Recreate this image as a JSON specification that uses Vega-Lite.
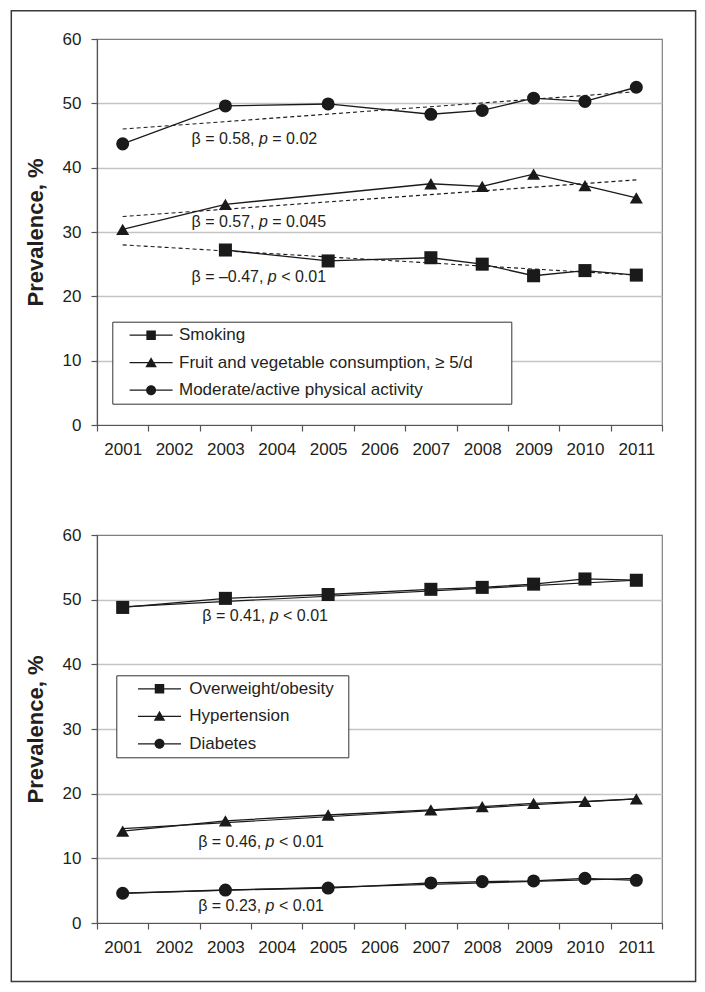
{
  "$schema": "https://vega.github.io/schema/vega-lite/v6.json",
  "padding": {"left": 9, "top": 9, "right": 9, "bottom": 9},
  "background": "white",
  "config": {
    "font": "Liberation Sans",
    "view": {"fill": "#f2f2f2", "stroke": "#7f7f7f", "strokeWidth": 1.2},
    "axis": {
      "labelFont": "Liberation Sans", "labelFontSize": 17, "labelColor": "#231f20",
      "domainColor": "#555555", "tickColor": "#555555", "domainWidth": 1.2, "tickWidth": 1.2,
      "titleFont": "Liberation Sans", "titleColor": "#231f20"
    },
    "axisY": {
      "grid": true,
      "gridColor": {"condition": {"test": "datum.value == 0 || datum.value == 60", "value": "transparent"}, "value": "#c4c4c4"},
      "gridWidth": 1.6, "tickSize": 6, "labelPadding": 10, "titlePadding": 15, "titleFontSize": 22, "titleFontWeight": "bold"
    },
    "legend": {
      "labelFont": "Liberation Sans", "labelFontSize": 17, "labelColor": "#231f20", "labelLimit": 500,
      "strokeColor": "#333333", "fillColor": "white", "padding": 5,
      "symbolSize": 100, "symbolFillColor": "#1a1a1a",
      "rowPadding": 9.5, "titlePadding": 0
    }
  },
  "datasets": {
    "top": [
      {"series": "Smoking", "year": 2003, "value": 27.2},
      {"series": "Smoking", "year": 2005, "value": 25.5},
      {"series": "Smoking", "year": 2007, "value": 26.0},
      {"series": "Smoking", "year": 2008, "value": 25.0},
      {"series": "Smoking", "year": 2009, "value": 23.2},
      {"series": "Smoking", "year": 2010, "value": 24.0},
      {"series": "Smoking", "year": 2011, "value": 23.3},
      {"series": "Fruit and vegetable consumption, ≥ 5/d", "year": 2001, "value": 30.4},
      {"series": "Fruit and vegetable consumption, ≥ 5/d", "year": 2003, "value": 34.3},
      {"series": "Fruit and vegetable consumption, ≥ 5/d", "year": 2007, "value": 37.5},
      {"series": "Fruit and vegetable consumption, ≥ 5/d", "year": 2008, "value": 37.1},
      {"series": "Fruit and vegetable consumption, ≥ 5/d", "year": 2009, "value": 39.0},
      {"series": "Fruit and vegetable consumption, ≥ 5/d", "year": 2010, "value": 37.2},
      {"series": "Fruit and vegetable consumption, ≥ 5/d", "year": 2011, "value": 35.3},
      {"series": "Moderate/active physical activity", "year": 2001, "value": 43.7},
      {"series": "Moderate/active physical activity", "year": 2003, "value": 49.6},
      {"series": "Moderate/active physical activity", "year": 2005, "value": 49.9},
      {"series": "Moderate/active physical activity", "year": 2007, "value": 48.3},
      {"series": "Moderate/active physical activity", "year": 2008, "value": 48.9},
      {"series": "Moderate/active physical activity", "year": 2009, "value": 50.8},
      {"series": "Moderate/active physical activity", "year": 2010, "value": 50.3},
      {"series": "Moderate/active physical activity", "year": 2011, "value": 52.5}
    ],
    "topTrend": [
      {"series": "Smoking", "year": 2001, "value": 28.0},
      {"series": "Smoking", "year": 2011, "value": 23.3},
      {"series": "Fruit and vegetable consumption, ≥ 5/d", "year": 2001, "value": 32.4},
      {"series": "Fruit and vegetable consumption, ≥ 5/d", "year": 2011, "value": 38.1},
      {"series": "Moderate/active physical activity", "year": 2001, "value": 46.0},
      {"series": "Moderate/active physical activity", "year": 2011, "value": 51.8}
    ],
    "topNotes": [
      {"x": 2002.34, "y": 44.5, "text": "β = 0.58,", "it": false},
      {"x": 2003.652, "y": 44.5, "text": "p", "it": true},
      {"x": 2003.912, "y": 44.5, "text": "= 0.02", "it": false},
      {"x": 2002.34, "y": 31.6, "text": "β = 0.57,", "it": false},
      {"x": 2003.652, "y": 31.6, "text": "p", "it": true},
      {"x": 2003.912, "y": 31.6, "text": "= 0.045", "it": false},
      {"x": 2002.34, "y": 23.0, "text": "β = –0.47,", "it": false},
      {"x": 2003.826, "y": 23.0, "text": "p", "it": true},
      {"x": 2004.086, "y": 23.0, "text": "< 0.01", "it": false}
    ],
    "bottom": [
      {"series": "Overweight/obesity", "year": 2001, "value": 48.8},
      {"series": "Overweight/obesity", "year": 2003, "value": 50.2},
      {"series": "Overweight/obesity", "year": 2005, "value": 50.8},
      {"series": "Overweight/obesity", "year": 2007, "value": 51.6},
      {"series": "Overweight/obesity", "year": 2008, "value": 51.9},
      {"series": "Overweight/obesity", "year": 2009, "value": 52.4},
      {"series": "Overweight/obesity", "year": 2010, "value": 53.2},
      {"series": "Overweight/obesity", "year": 2011, "value": 53.0},
      {"series": "Hypertension", "year": 2001, "value": 14.2},
      {"series": "Hypertension", "year": 2003, "value": 15.8},
      {"series": "Hypertension", "year": 2005, "value": 16.7},
      {"series": "Hypertension", "year": 2007, "value": 17.5},
      {"series": "Hypertension", "year": 2008, "value": 18.0},
      {"series": "Hypertension", "year": 2009, "value": 18.5},
      {"series": "Hypertension", "year": 2010, "value": 18.8},
      {"series": "Hypertension", "year": 2011, "value": 19.2},
      {"series": "Diabetes", "year": 2001, "value": 4.6},
      {"series": "Diabetes", "year": 2003, "value": 5.1},
      {"series": "Diabetes", "year": 2005, "value": 5.4},
      {"series": "Diabetes", "year": 2007, "value": 6.2},
      {"series": "Diabetes", "year": 2008, "value": 6.4},
      {"series": "Diabetes", "year": 2009, "value": 6.5},
      {"series": "Diabetes", "year": 2010, "value": 6.9},
      {"series": "Diabetes", "year": 2011, "value": 6.6}
    ],
    "bottomTrend": [
      {"series": "Overweight/obesity", "year": 2001, "value": 48.9},
      {"series": "Overweight/obesity", "year": 2011, "value": 53.0},
      {"series": "Hypertension", "year": 2001, "value": 14.6},
      {"series": "Hypertension", "year": 2011, "value": 19.2},
      {"series": "Diabetes", "year": 2001, "value": 4.6},
      {"series": "Diabetes", "year": 2011, "value": 6.9}
    ],
    "bottomNotes": [
      {"x": 2002.55, "y": 47.4, "text": "β = 0.41,", "it": false},
      {"x": 2003.862, "y": 47.4, "text": "p", "it": true},
      {"x": 2004.122, "y": 47.4, "text": "< 0.01", "it": false},
      {"x": 2002.47, "y": 12.6, "text": "β = 0.46,", "it": false},
      {"x": 2003.782, "y": 12.6, "text": "p", "it": true},
      {"x": 2004.042, "y": 12.6, "text": "< 0.01", "it": false},
      {"x": 2002.47, "y": 2.6, "text": "β = 0.23,", "it": false},
      {"x": 2003.782, "y": 2.6, "text": "p", "it": true},
      {"x": 2004.042, "y": 2.6, "text": "< 0.01", "it": false}
    ]
  },
  "bounds": "flush",
  "spacing": 110,
  "vconcat": [
    {
      "width": 565,
      "height": 386,
      "resolve": {"scale": {"x": "independent", "shape": "independent"}},
      "layer": [
        {
          "layer": [
            {
              "data": {"name": "topTrend"},
              "mark": {"type": "line", "color": "#1a1a1a", "strokeWidth": 1.1, "strokeDash": [4, 3]},
              "encoding": {
                "x": {"field": "year", "type": "ordinal", "bandPosition": 0.5, "scale": {"type": "band", "domain": [2001, 2002, 2003, 2004, 2005, 2006, 2007, 2008, 2009, 2010, 2011], "paddingInner": 0, "paddingOuter": 0}, "axis": {"title": null, "tickBand": "extent", "labelAngle": 0, "grid": false, "labelPadding": 10, "tickSize": 6}},
                "y": {"field": "value", "type": "quantitative", "scale": {"domain": [0, 60], "nice": false}, "title": "Prevalence, %", "axis": {"values": [0, 10, 20, 30, 40, 50, 60]}},
                "detail": {"field": "series"}
              }
            },
            {
              "data": {"name": "top"},
              "mark": {"type": "line", "color": "#1a1a1a", "strokeWidth": 1.3},
              "encoding": {
                "x": {"field": "year", "type": "ordinal", "bandPosition": 0.5},
                "y": {"field": "value", "type": "quantitative", "title": "Prevalence, %", "axis": {"values": [0, 10, 20, 30, 40, 50, 60]}},
                "detail": {"field": "series"}
              }
            },
            {
              "data": {"name": "top"},
              "mark": {"type": "point", "filled": true, "opacity": 1, "color": "#1a1a1a", "size": 170},
              "encoding": {
                "x": {"field": "year", "type": "ordinal", "bandPosition": 0.5},
                "y": {"field": "value", "type": "quantitative", "title": "Prevalence, %", "axis": {"values": [0, 10, 20, 30, 40, 50, 60]}},
                "shape": {"field": "series", "type": "nominal", "scale": {"domain": ["Smoking", "Fruit and vegetable consumption, ≥ 5/d", "Moderate/active physical activity"], "range": ["square", "triangle-up", "circle"]}, "legend": null}
              }
            }
          ]
        },
        {
          "layer": [
            {
              "data": {"values": [{}]},
              "mark": {"type": "rect", "filled": false, "color": "#3a3a3a", "strokeWidth": 1.5},
              "encoding": {
                "x": {"datum": 1998.8315, "type": "quantitative", "scale": {"domain": [2000.5, 2011.5], "nice": false, "zero": false}, "axis": null},
                "x2": {"datum": 2012.154},
                "y": {"datum": 64.399, "type": "quantitative", "scale": {"domain": [0, 60], "nice": false}, "title": "Prevalence, %", "axis": {"values": [0, 10, 20, 30, 40, 50, 60]}},
                "y2": {"datum": -86.49}
              }
            },
            {
              "data": {"name": "topNotes"},
              "transform": [{"filter": "!datum.it"}],
              "mark": {"type": "text", "align": "left", "baseline": "middle", "fontSize": 16, "color": "#231f20"},
              "encoding": {
                "x": {"field": "x", "type": "quantitative"},
                "y": {"field": "y", "type": "quantitative", "title": "Prevalence, %", "axis": {"values": [0, 10, 20, 30, 40, 50, 60]}},
                "text": {"field": "text"}
              }
            },
            {
              "data": {"name": "topNotes"},
              "transform": [{"filter": "datum.it"}],
              "mark": {"type": "text", "align": "left", "baseline": "middle", "fontSize": 16, "fontStyle": "italic", "color": "#231f20"},
              "encoding": {
                "x": {"field": "x", "type": "quantitative"},
                "y": {"field": "y", "type": "quantitative", "title": "Prevalence, %", "axis": {"values": [0, 10, 20, 30, 40, 50, 60]}},
                "text": {"field": "text"}
              }
            },
            {
              "data": {"name": "top"},
              "transform": [{"filter": "false"}],
              "mark": {"type": "point", "filled": true, "opacity": 1, "color": "#1a1a1a"},
              "encoding": {
                "shape": {
                  "field": "series", "type": "nominal",
                  "scale": {"domain": ["Smoking", "Fruit and vegetable consumption, ≥ 5/d", "Moderate/active physical activity"],
                            "range": ["M-4.3,-0.13H4.3V0.13H-4.3ZM-0.95,-0.95H0.95V0.95H-0.95Z", "M-4.3,-0.13H4.3V0.13H-4.3ZM0,-1.1L1.15,0.9H-1.15Z", "M-4.3,-0.13H4.3V0.13H-4.3ZM1,0A1,1,0,1,1,-1,0A1,1,0,1,1,1,0Z"]},
                  "legend": {
                    "title": null, "orient": "none", "legendX": 15.3, "legendY": 282.7, "symbolOffset": 25.3, "labelOffset": 19.4,
                    "labelExpr": "datum.label + '\u00a0\u00a0\u00a0\u00a0\u00a0\u00a0\u00a0\u200b'",
                    "encode": {"symbols": {"fill": {"value": "#1a1a1a"}, "opacity": {"value": 1}}}
                  }
                }
              }
            }
          ]
        }
      ]
    },
    {
      "width": 565,
      "height": 388,
      "resolve": {"scale": {"x": "independent", "shape": "independent"}},
      "layer": [
        {
          "layer": [
            {
              "data": {"name": "bottomTrend"},
              "mark": {"type": "line", "color": "#1a1a1a", "strokeWidth": 1.2},
              "encoding": {
                "x": {"field": "year", "type": "ordinal", "bandPosition": 0.5, "scale": {"type": "band", "domain": [2001, 2002, 2003, 2004, 2005, 2006, 2007, 2008, 2009, 2010, 2011], "paddingInner": 0, "paddingOuter": 0}, "axis": {"title": null, "tickBand": "extent", "labelAngle": 0, "grid": false, "labelPadding": 10, "tickSize": 6}},
                "y": {"field": "value", "type": "quantitative", "scale": {"domain": [0, 60], "nice": false}, "title": "Prevalence, %", "axis": {"values": [0, 10, 20, 30, 40, 50, 60]}},
                "detail": {"field": "series"}
              }
            },
            {
              "data": {"name": "bottom"},
              "mark": {"type": "line", "color": "#1a1a1a", "strokeWidth": 1.3},
              "encoding": {
                "x": {"field": "year", "type": "ordinal", "bandPosition": 0.5},
                "y": {"field": "value", "type": "quantitative", "title": "Prevalence, %", "axis": {"values": [0, 10, 20, 30, 40, 50, 60]}},
                "detail": {"field": "series"}
              }
            },
            {
              "data": {"name": "bottom"},
              "mark": {"type": "point", "filled": true, "opacity": 1, "color": "#1a1a1a", "size": 170},
              "encoding": {
                "x": {"field": "year", "type": "ordinal", "bandPosition": 0.5},
                "y": {"field": "value", "type": "quantitative", "title": "Prevalence, %", "axis": {"values": [0, 10, 20, 30, 40, 50, 60]}},
                "shape": {"field": "series", "type": "nominal", "scale": {"domain": ["Overweight/obesity", "Hypertension", "Diabetes"], "range": ["square", "triangle-up", "circle"]}, "legend": null}
              }
            }
          ]
        },
        {
          "layer": [
            {
              "data": {"name": "bottomNotes"},
              "transform": [{"filter": "!datum.it"}],
              "mark": {"type": "text", "align": "left", "baseline": "middle", "fontSize": 16, "color": "#231f20"},
              "encoding": {
                "x": {"field": "x", "type": "quantitative", "scale": {"domain": [2000.5, 2011.5], "nice": false, "zero": false}, "axis": null},
                "y": {"field": "y", "type": "quantitative", "scale": {"domain": [0, 60], "nice": false}, "title": "Prevalence, %", "axis": {"values": [0, 10, 20, 30, 40, 50, 60]}},
                "text": {"field": "text"}
              }
            },
            {
              "data": {"name": "bottomNotes"},
              "transform": [{"filter": "datum.it"}],
              "mark": {"type": "text", "align": "left", "baseline": "middle", "fontSize": 16, "fontStyle": "italic", "color": "#231f20"},
              "encoding": {
                "x": {"field": "x", "type": "quantitative"},
                "y": {"field": "y", "type": "quantitative", "title": "Prevalence, %", "axis": {"values": [0, 10, 20, 30, 40, 50, 60]}},
                "text": {"field": "text"}
              }
            },
            {
              "data": {"name": "bottom"},
              "transform": [{"filter": "false"}],
              "mark": {"type": "point", "filled": true, "opacity": 1, "color": "#1a1a1a"},
              "encoding": {
                "shape": {
                  "field": "series", "type": "nominal",
                  "scale": {"domain": ["Overweight/obesity", "Hypertension", "Diabetes"],
                            "range": ["M-4.3,-0.13H4.3V0.13H-4.3ZM-0.95,-0.95H0.95V0.95H-0.95Z", "M-4.3,-0.13H4.3V0.13H-4.3ZM0,-1.1L1.15,0.9H-1.15Z", "M-4.3,-0.13H4.3V0.13H-4.3ZM1,0A1,1,0,1,1,-1,0A1,1,0,1,1,1,0Z"]},
                  "legend": {
                    "title": null, "orient": "none", "legendX": 19.3, "legendY": 140.3, "symbolOffset": 29.7, "labelOffset": 21.2,
                    "labelExpr": "datum.label + '\u00a0\u00a0\u200b'",
                    "encode": {"symbols": {"fill": {"value": "#1a1a1a"}, "opacity": {"value": 1}}}
                  }
                }
              }
            }
          ]
        }
      ]
    }
  ]
}
